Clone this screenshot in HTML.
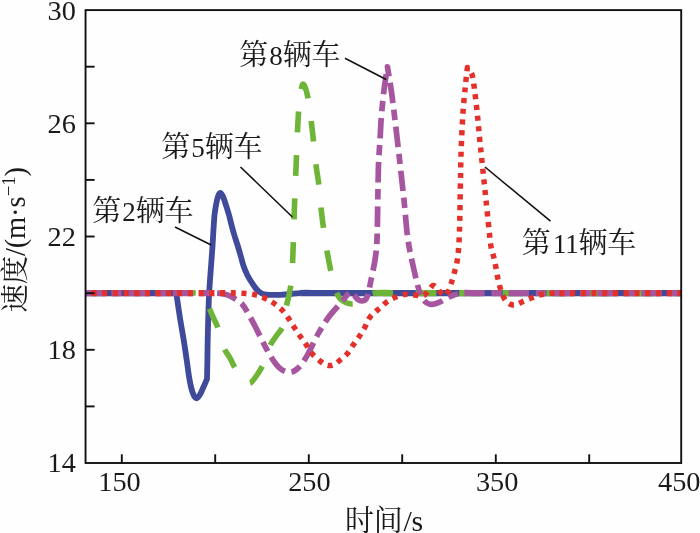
<!DOCTYPE html>
<html lang="zh"><head><meta charset="utf-8"><title>速度-时间</title>
<style>
html,body{margin:0;padding:0;background:#fff;}
svg{display:block;will-change:transform}
text{font-family:"Liberation Serif","Noto Serif CJK SC",serif;fill:#1a1a1a}
.num text{font-size:28.3px}
.lab text{font-size:29px;letter-spacing:-0.2px}
.lab .d{font-size:27px}
.ax line,.ax rect{stroke:#111;stroke-width:1.9;fill:none}
.ld line{stroke:#111;stroke-width:1.6}
.cv path{fill:none;stroke-linejoin:round}
</style></head><body>
<svg width="700" height="533" viewBox="0 0 700 533">
<rect width="700" height="533" fill="#fefefe"/>
<g class="cv">
<path d="M86.0,293.1C93.3,293.1 116.0,293.1 130.0,293.1C144.0,293.1 162.3,293.1 170.0,293.1C172.4,293.1 174.1,293.1 176.2,293.1" stroke="#3f4a9b" stroke-width="6.3"/>
<path d="M176.2,293.1C176.6,295.4 176.9,297.3 177.3,300.0C178.0,304.5 179.2,313.3 180.3,320.0C181.4,326.7 182.6,333.3 183.7,340.0C184.8,346.7 185.7,353.4 186.7,360.0C187.7,366.6 188.5,374.0 189.5,379.4C190.4,384.5 191.5,389.4 192.6,392.5C193.5,395.0 195.1,398.0 196.3,398.3C197.5,398.6 198.9,396.2 200.0,394.5C201.2,392.6 202.3,389.6 203.5,387.0C204.7,384.4 205.8,381.7 207.0,379.0C207.1,372.7 207.3,366.5 207.4,360.0C207.5,353.5 207.5,347.7 207.7,340.0C207.9,330.0 208.4,310.0 208.8,300.0C209.1,292.3 209.5,287.7 210.0,280.0C210.6,271.0 211.8,256.8 212.5,246.0C213.2,235.2 213.8,222.7 214.5,215.0C215.1,209.2 216.3,203.3 217.0,200.0C217.4,198.0 218.0,196.2 218.6,195.0C219.0,194.0 219.7,192.8 220.3,192.8C220.9,192.8 221.7,194.0 222.2,195.0C222.9,196.2 223.6,198.0 224.3,200.0C225.4,203.3 227.8,210.8 229.0,215.0C230.1,218.8 230.6,221.5 231.5,225.0C232.4,228.5 233.5,232.5 234.6,236.0C235.7,239.5 236.7,242.5 237.8,246.0C238.9,249.5 240.0,253.4 241.0,257.0C242.0,260.6 242.9,264.3 244.0,267.3C245.1,270.3 246.2,272.7 247.3,275.0C248.5,277.3 249.5,279.1 250.9,281.3C252.3,283.5 254.4,286.6 255.8,288.4C257.0,289.9 258.1,291.0 259.5,292.0C260.9,293.0 262.2,293.8 264.0,294.3C265.8,294.8 267.7,294.8 270.0,294.9C272.7,295.0 276.7,294.9 280.0,294.8C283.3,294.7 286.7,294.5 290.0,294.2C293.3,293.9 296.1,293.2 300.0,293.1" stroke="#3f4a9b" stroke-width="5.8"/>
<path d="M300.0,293.1C305.0,292.9 312.3,293.1 320.0,293.1C383.5,293.1 620.8,293.1 681.0,293.1" stroke="#3f4a9b" stroke-width="6.3"/>
<path d="M192.0,293.1C192.8,293.1 195.2,292.8 197.0,293.1C198.8,293.4 201.4,293.2 203.0,295.0C204.8,297.0 206.3,301.3 208.0,305.0C209.7,308.7 211.3,313.2 213.0,317.0C214.7,320.8 216.4,323.6 218.0,328.0C219.8,333.2 222.0,343.0 224.0,348.0C225.7,352.2 228.2,354.7 230.0,358.0C231.8,361.3 233.2,364.8 235.0,368.0C236.8,371.2 239.0,374.6 241.0,377.0C243.0,379.4 245.3,381.6 247.0,382.5C248.3,383.2 249.8,383.4 251.0,382.5C252.7,381.2 255.0,377.9 257.0,375.0C259.0,372.1 261.3,368.3 263.0,365.0C264.7,361.7 265.7,358.5 267.0,355.0C268.3,351.5 269.3,347.3 271.0,344.0C272.7,340.7 275.0,338.0 277.0,335.0C279.0,332.0 281.7,329.9 283.0,326.0C284.5,321.5 285.0,313.2 286.0,308.0C287.0,303.0 288.1,299.7 289.0,295.0C289.9,290.3 291.0,285.8 291.5,280.0C292.2,272.8 292.6,262.8 293.0,252.0C293.5,240.0 293.9,222.0 294.4,208.0C294.9,194.0 295.4,182.5 296.0,168.0C296.6,153.5 297.3,133.0 298.0,121.0C298.5,111.4 299.2,102.1 300.0,96.0C300.6,91.5 301.7,86.0 302.5,84.5C303.2,83.3 304.5,85.7 305.0,87.0C305.9,89.2 307.3,93.7 308.0,98.0C309.2,105.5 311.2,120.8 312.5,132.0C313.8,143.2 314.9,156.0 316.0,165.0C317.0,173.1 318.2,178.8 319.0,186.0C319.8,193.2 320.2,200.8 321.0,208.0C321.8,215.2 322.6,221.8 323.6,229.0C324.6,236.2 325.8,243.8 327.0,251.0C328.2,258.2 329.7,265.8 331.0,272.0C332.3,278.2 333.8,283.9 335.0,288.0C336.0,291.4 337.2,294.3 338.5,296.5C339.8,298.6 341.4,299.9 343.0,301.0C344.6,302.1 346.2,302.9 348.0,303.3C349.8,303.8 352.0,304.2 354.0,303.7C356.0,303.2 357.8,301.6 360.0,300.3C362.2,299.0 364.5,297.2 367.0,296.0C369.5,294.8 371.7,293.5 375.0,293.1" stroke="#6db437" stroke-width="5.6" stroke-dasharray="20.7 22.8" stroke-dashoffset="16.93"/>
<path d="M375.0,293.1C379.2,292.6 385.5,293.1 392.0,293.1C443.0,293.1 632.8,293.1 681.0,293.1" stroke="#6db437" stroke-width="6.3" stroke-dasharray="20.7 22.8" stroke-dashoffset="2.69"/>
<path d="M86.0,293.1C96.7,293.1 128.5,293.1 150.0,293.1C171.5,293.1 202.7,293.0 215.0,293.1" stroke="#a6559f" stroke-width="6.3" stroke-dasharray="20.4 6.7 10.4 6.7" stroke-dashoffset="1.70" stroke-linejoin="miter"/>
<path d="M215.0,293.1C218.5,293.1 221.2,293.4 224.0,294.0C226.8,294.6 229.1,295.4 232.0,297.0C235.0,298.7 239.2,301.0 242.0,304.0C244.8,307.0 246.7,311.0 249.0,315.0C251.3,319.0 253.4,323.0 256.0,328.0C258.8,333.5 263.2,342.7 266.0,348.0C268.5,352.7 270.8,356.8 273.0,360.0C275.0,363.1 277.0,365.6 279.0,367.5C281.0,369.4 283.2,370.7 285.0,371.5C286.8,372.3 288.3,372.4 290.0,372.2C291.7,372.0 293.3,371.6 295.0,370.5C296.8,369.3 299.1,367.5 301.0,365.0C303.2,362.2 305.6,358.4 308.0,354.0C310.8,348.8 314.7,340.0 318.0,334.0C321.3,328.0 324.7,322.7 328.0,318.0C331.3,313.3 335.3,309.2 338.0,306.0C340.3,303.3 342.3,301.0 344.0,299.0C345.6,297.1 346.8,295.2 348.0,294.0C349.0,293.0 350.0,291.8 351.0,292.0C352.0,292.2 352.9,293.8 354.0,295.0C355.2,296.2 356.7,298.5 358.0,299.5C359.3,300.5 360.7,301.1 362.0,301.0C363.3,300.9 365.0,300.4 366.0,299.0C367.1,297.5 367.8,294.8 368.5,292.0C369.3,288.8 370.1,284.6 371.0,280.0C372.1,274.7 374.0,266.7 375.0,260.0C376.0,253.3 376.7,247.7 377.0,240.0C377.6,224.7 377.9,184.7 378.4,168.0C378.7,157.2 379.5,148.8 380.0,140.0C380.5,131.2 380.8,123.3 381.5,115.0C382.2,106.7 383.0,98.0 384.0,90.0C385.0,82.0 386.3,74.5 387.4,66.8C388.7,74.5 389.9,81.1 391.2,90.0C392.5,98.9 393.6,108.5 395.0,120.0C396.4,131.7 398.1,146.7 399.6,160.0C401.1,173.3 402.6,186.7 404.0,200.0C405.4,213.3 406.3,228.3 408.0,240.0C409.7,251.6 412.2,261.7 414.0,270.0C415.7,277.7 417.5,285.2 419.0,290.0C420.1,293.6 421.7,296.8 423.0,299.0C424.1,300.9 425.7,302.1 427.0,303.0C428.3,303.9 429.5,304.2 431.0,304.3C432.5,304.4 434.3,304.0 436.0,303.5C437.7,303.0 439.2,302.4 441.0,301.5C442.8,300.6 444.8,299.1 447.0,298.0C449.2,296.9 451.5,295.8 454.0,295.0C456.5,294.2 458.8,293.3 462.0,293.1" stroke="#a6559f" stroke-width="5.7" stroke-dasharray="20.4 6.7 10.4 6.7" stroke-dashoffset="42.30" stroke-linejoin="miter"/>
<path d="M462.0,293.1C466.3,292.8 473.1,293.1 480.0,293.1C516.5,293.1 647.5,293.1 681.0,293.1" stroke="#a6559f" stroke-width="6.3" stroke-dasharray="20.4 6.7 10.4 6.7" stroke-dashoffset="41.72" stroke-linejoin="miter"/>
<path d="M86.0,293.1C96.7,293.1 125.4,293.1 150.0,293.1C174.8,293.1 218.3,293.0 235.0,293.1" stroke="#e4302a" stroke-width="6.3" stroke-dasharray="5.1 5.6" stroke-dashoffset="5.19" stroke-linejoin="bevel"/>
<path d="M235.0,293.1C240.8,293.1 245.5,293.2 250.0,293.8C254.5,294.4 258.3,295.6 262.0,297.0C265.7,298.4 268.8,300.0 272.0,302.0C275.2,304.0 278.3,306.4 281.0,309.0C283.7,311.6 285.8,314.6 288.0,317.6C290.2,320.6 292.0,323.9 294.0,327.0C296.0,330.1 298.0,333.1 300.0,336.0C302.0,338.9 304.0,341.5 306.0,344.4C308.0,347.3 309.7,350.8 312.0,353.6C314.3,356.4 317.8,359.2 320.0,361.0C321.8,362.5 323.4,363.7 325.0,364.5C326.6,365.3 328.0,365.6 329.5,365.6C331.0,365.6 332.4,365.3 334.0,364.5C335.6,363.7 337.2,362.5 339.0,361.0C341.2,359.2 344.6,356.8 347.0,354.0C349.4,351.2 351.5,347.4 353.6,344.4C355.7,341.4 357.7,338.9 359.6,336.0C361.5,333.1 363.4,330.0 365.0,327.0C366.6,324.0 367.7,320.5 369.4,318.0C371.1,315.5 373.2,313.7 375.0,312.0C376.8,310.3 378.1,309.6 380.0,308.0C382.2,306.2 385.3,302.8 388.0,301.0C390.7,299.2 393.3,298.1 396.0,297.0C398.7,295.9 401.7,294.9 404.0,294.5C406.3,294.1 407.7,294.3 410.0,294.5C412.3,294.7 415.7,295.3 418.0,295.5C420.3,295.7 422.2,296.4 424.0,295.5C425.8,294.6 427.5,291.7 429.0,290.0C430.5,288.3 431.7,285.8 433.0,285.5C434.3,285.2 435.7,286.8 437.0,288.0C438.3,289.2 439.7,291.8 441.0,293.0C442.3,294.2 443.8,295.7 445.0,295.5C446.2,295.3 447.2,293.6 448.0,292.0C449.0,290.1 450.0,287.0 451.0,284.0C452.0,281.0 453.0,277.7 454.0,274.0C455.0,270.3 456.2,266.0 457.0,262.0C457.8,258.0 458.1,254.6 458.5,250.0C458.9,244.7 459.3,237.7 459.5,230.0C459.8,220.0 460.1,202.5 460.3,190.0C460.6,177.5 460.6,168.0 461.0,155.0C461.4,142.0 462.3,122.8 463.0,112.0C463.5,103.5 464.5,95.7 465.0,90.0C465.4,85.4 465.8,81.7 466.2,78.0C466.6,74.3 467.0,71.1 467.4,67.6C468.9,69.8 470.8,71.4 471.9,74.3C473.0,77.2 473.3,81.5 473.9,85.1C474.5,88.7 474.8,91.7 475.3,95.8C475.9,101.2 477.0,110.5 477.7,117.7C478.4,125.0 479.0,132.2 479.7,139.3C480.4,146.4 481.1,152.3 481.9,160.4C482.9,170.5 484.5,185.6 486.0,200.0C487.5,214.4 489.7,237.3 491.0,247.0C491.6,251.3 493.2,254.5 494.0,258.0C494.8,261.5 495.3,264.5 496.0,268.0C496.7,271.5 497.2,275.5 498.0,279.0C498.8,282.5 499.5,285.8 500.5,289.0C501.5,292.2 502.8,295.7 504.0,298.0C505.2,300.2 506.5,301.8 508.0,303.0C509.5,304.2 511.3,304.8 513.0,305.0C514.7,305.2 516.2,304.7 518.0,304.0C519.8,303.3 521.6,302.0 524.0,301.0C526.7,299.8 530.7,298.2 534.0,297.0C537.3,295.8 540.5,294.6 544.0,294.0C547.5,293.4 550.8,293.2 555.0,293.1" stroke="#e4302a" stroke-width="5.5" stroke-dasharray="5.1 5.6" stroke-dashoffset="4.39" stroke-linejoin="bevel"/>
<path d="M555.0,293.1C561.0,293.0 570.4,293.1 580.0,293.1C601.0,293.1 664.2,293.1 681.0,293.1" stroke="#e4302a" stroke-width="6.3" stroke-dasharray="5.1 5.6" stroke-dashoffset="6.23" stroke-linejoin="bevel"/>
</g>
<g class="ax"><rect x="85.55" y="10.1" width="595.65" height="452.9"/><line x1="85.55" y1="66.7" x2="94.6" y2="66.7"/><line x1="85.55" y1="123.3" x2="94.6" y2="123.3"/><line x1="85.55" y1="179.9" x2="94.6" y2="179.9"/><line x1="85.55" y1="236.5" x2="94.6" y2="236.5"/><line x1="85.55" y1="293.2" x2="94.6" y2="293.2"/><line x1="85.55" y1="349.8" x2="94.6" y2="349.8"/><line x1="85.55" y1="406.4" x2="94.6" y2="406.4"/><line x1="121.8" y1="463" x2="121.8" y2="454.3"/><line x1="215.2" y1="463" x2="215.2" y2="454.3"/><line x1="308.8" y1="463" x2="308.8" y2="454.3"/><line x1="402.2" y1="463" x2="402.2" y2="454.3"/><line x1="495.8" y1="463" x2="495.8" y2="454.3"/><line x1="589.2" y1="463" x2="589.2" y2="454.3"/></g>
<g class="num"><text x="75.8" y="19.5" text-anchor="end">30</text><text x="75.8" y="132.7" text-anchor="end">26</text><text x="75.8" y="245.9" text-anchor="end">22</text><text x="75.8" y="359.2" text-anchor="end">18</text><text x="75.8" y="472.4" text-anchor="end">14</text><text x="119.5" y="491.4" text-anchor="middle">150</text><text x="309.4" y="491.4" text-anchor="middle">250</text><text x="497.2" y="491.4" text-anchor="middle">350</text><text x="658" y="491.4" text-anchor="start">450</text></g>
<g class="ld">
<line x1="345" y1="58.2" x2="386.2" y2="79.5"/>
<line x1="240.5" y1="167" x2="292.4" y2="217"/>
<line x1="175" y1="227" x2="211.2" y2="245"/>
<line x1="485" y1="167" x2="550.5" y2="221.2"/>
</g>
<g class="lab">
<text x="239.3" y="65">第<tspan class="d" dx="1.2">8</tspan>辆车</text>
<text x="161.3" y="157">第<tspan class="d" dx="1.2">5</tspan>辆车</text>
<text x="92.3" y="221">第<tspan class="d" dx="1.2">2</tspan>辆车</text>
<text x="521.8" y="253">第<tspan class="d" dx="2.3">11</tspan>辆车</text>
<text x="384" y="531" text-anchor="middle">时间<tspan font-size="30" dx="0.8">/s</tspan></text>
<text transform="translate(25,239.8) rotate(-90)" text-anchor="middle" style="font-size:28.5px">速度/(m·s<tspan font-size="19" dy="-10" dx="0.5">−1</tspan><tspan dy="10">)</tspan></text>
</g>
</svg>
</body></html>
